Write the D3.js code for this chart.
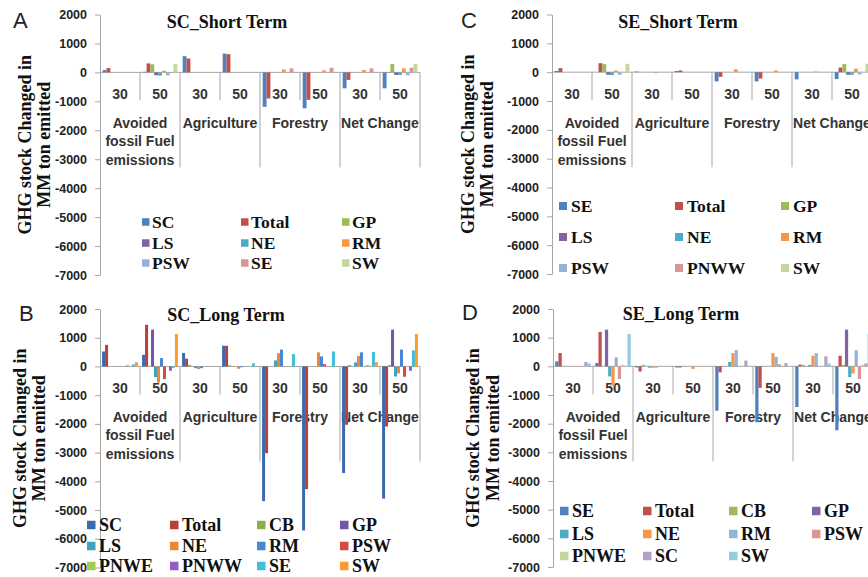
<!DOCTYPE html>
<html>
<head>
<meta charset="utf-8">
<script src="https://cdn.jsdelivr.net/npm/d3@7"></script>
<style>
  body { margin: 0; background: #fff; }
  svg { display: block; }
</style>
</head>
<body>
<svg id="chart" width="868" height="577"></svg>
<script>
// --- Shared categories ---
const periods = ["30", "50"];
const sectors = ["Avoided fossil Fuel emissions", "Agriculture", "Forestry", "Net Change"];
const sectorLines = [["Avoided", "fossil Fuel", "emissions"], ["Agriculture"], ["Forestry"], ["Net Change"]];
const yTicks = [2000, 1000, 0, -1000, -2000, -3000, -4000, -5000, -6000, -7000];

// Values: one row per series, columns = Avoided 30/50, Agriculture 30/50, Forestry 30/50, Net Change 30/50
// --- A: SC short term ---
const scShortSeries = ["SC", "Total", "GP", "LS", "NE", "RM", "PSW", "SE", "SW"];
const scShortValues = [
  [80, 20, 560, 650, -1190, -1240, -550, -550],
  [150, 310, 480, 630, -900, -950, -260, -10],
  [0, 280, 0, 0, 0, 0, 0, 290],
  [0, -100, 0, 0, 0, 0, 0, -90],
  [0, -110, 0, 0, 0, 0, 0, -90],
  [0, 60, 0, 0, 100, 70, 80, 140],
  [0, -100, 0, 0, 0, 0, 0, -100],
  [0, 0, 0, 0, 140, 160, 140, 160],
  [0, 290, 0, 0, 0, 0, 0, 290]
];
const scShortColors = ["#4F81BD", "#C0504D", "#9BBB59", "#8064A2", "#4BACC6", "#F79646", "#95B3D7", "#D99694", "#C3D69B"];

// --- B: SC long term ---
const scLongSeries = ["SC", "Total", "CB", "GP", "LS", "NE", "RM", "PSW", "PNWE", "PNWW", "SE", "SW"];
const scLongValues = [
  [520, 405, 470, 720, -4690, -5710, -3710, -4600],
  [750, 1450, 270, 720, -3020, -4270, -2030, -2090],
  [0, 0, 50, 40, 0, 0, 50, 50],
  [0, 1280, 0, 0, 0, 0, 0, 1280],
  [0, -370, -60, 0, 210, 0, 140, -350],
  [0, -560, -90, -80, 460, 490, 360, -240],
  [0, 290, -60, -30, 590, 350, 490, 590],
  [0, -440, 0, 0, 0, 80, 0, -360],
  [50, 0, 0, 0, 0, 0, 50, 0],
  [0, -150, 0, 0, 0, 0, 0, -150],
  [70, -50, 0, 110, 430, 520, 500, 560],
  [150, 1130, 0, 0, 0, 0, 150, 1130]
];
const scLongColors = ["#3A6BB0", "#B83F3B", "#8CB04A", "#7357A3", "#3CA3C0", "#EF8630", "#4A86D6", "#D64A46", "#A2CC55", "#8E5EC6", "#3FC0DA", "#FF9A33"];

// --- C: SE short term ---
const seShortSeries = ["SE", "Total", "GP", "LS", "NE", "RM", "PSW", "PNWW", "SW"];
const seShortValues = [
  [40, 0, 20, 40, -320, -320, -250, -240],
  [140, 310, 0, 60, -160, -220, 0, 160],
  [0, 280, 0, 0, 0, 0, 0, 280],
  [0, -90, 0, 0, 0, 0, 0, -90],
  [0, -100, 0, 0, 0, 0, 0, -90],
  [0, 60, -30, 0, 100, 60, 20, 120],
  [0, -90, 0, 0, 0, 0, 0, -80],
  [0, 0, 0, 0, 0, 0, 0, 0],
  [0, 290, 0, 0, 0, 0, 0, 290]
];
const seShortColors = ["#4F81BD", "#C0504D", "#9BBB59", "#8064A2", "#4BACC6", "#F79646", "#95B3D7", "#D99694", "#C3D69B"];

// --- D: SE long term ---
const seLongSeries = ["SE", "Total", "CB", "GP", "LS", "NE", "RM", "PSW", "PNWE", "SC", "SW"];
const seLongValues = [
  [175, 115, -40, -40, -1550, -1950, -1420, -2230],
  [465, 1200, -180, -40, -210, -750, 60, 370],
  [0, 0, 50, 0, 0, 0, 50, 50],
  [0, 1280, 0, 0, 0, 0, 0, 1280],
  [0, -350, -50, 0, 150, 0, 50, -370],
  [0, -680, -50, -90, 460, 460, 370, -250],
  [0, 310, -50, 0, 570, 330, 460, 560],
  [0, -440, 0, 0, 0, 70, 0, -440],
  [0, 60, 0, 0, 0, 0, 0, 60],
  [150, 0, 0, 0, 200, 110, 350, 100],
  [100, 1130, 0, 0, 0, 0, 100, 1130]
];
const seLongColors = ["#4F81BD", "#C0504D", "#9BBB59", "#8064A2", "#4BACC6", "#F79646", "#95B3D7", "#D99694", "#C3D69B", "#B3A2C7", "#93CDDD"];

// --- Layout per panel ---
const SANS = "'Liberation Sans', Arial, sans-serif";
const SERIF = "'Liberation Serif', 'Times New Roman', serif";
const AXIS_GRAY = "#a6a6a6";

const panels = [
  { letter: "A", lx: 13, ly: 28, title: "SC_Short Term", tx: 227, ty: 28,
    axisX: 100, top: 14.5, bottom: 275, ytX: [31, 50],
    series: scShortSeries, values: scShortValues, colors: scShortColors,
    legend: { cols: [142, 241, 342], rows: [222, 243, 263], sw: 7.5, gap: 10, size: 17.5 } },
  { letter: "B", lx: 19, ly: 321, title: "SC_Long Term", tx: 226, ty: 321,
    axisX: 100, top: 309, bottom: 567.5, ytX: [26, 45],
    series: scLongSeries, values: scLongValues, colors: scLongColors,
    legend: { cols: [87, 170, 257, 340], rows: [525, 546, 566], sw: 8.5, gap: 12, size: 18 } },
  { letter: "C", lx: 461, ly: 28, title: "SE_Short Term", tx: 678, ty: 28,
    axisX: 552, top: 14.5, bottom: 274, ytX: [474, 493],
    series: seShortSeries, values: seShortValues, colors: seShortColors,
    legend: { cols: [559, 675, 781], rows: [206, 237, 268], sw: 8, gap: 12, size: 17.5 } },
  { letter: "D", lx: 462, ly: 320, title: "SE_Long Term", tx: 681, ty: 320,
    axisX: 553, top: 309, bottom: 567, ytX: [479, 499],
    series: seLongSeries, values: seLongValues, colors: seLongColors,
    legend: { cols: [560, 643, 729, 812], rows: [511, 534, 556], sw: 8.5, gap: 12, size: 18 } }
];

const svg = d3.select("#chart");
svg.append("rect").attr("width", 868).attr("height", 577).attr("fill", "#fff");

function drawPanel(p) {
  const g = svg.append("g");
  const y = d3.scaleLinear().domain([-7000, 2000]).range([p.bottom, p.top]);
  const keys = sectors.flatMap(s => periods.map(pr => s + "|" + pr));
  const x0 = d3.scaleBand().domain(keys).range([p.axisX, p.axisX + 320]);
  const x1 = d3.scaleBand().domain(p.series).range([0, x0.bandwidth()]).paddingOuter(0.7);
  const y0 = y(0);

  // y axis
  const ax = g.append("g")
    .attr("transform", `translate(${p.axisX},0)`)
    .call(d3.axisLeft(y).tickValues(yTicks).tickSize(5).tickPadding(8).tickSizeOuter(0).tickFormat(d => String(d)));
  ax.select(".domain").attr("stroke", AXIS_GRAY);
  ax.selectAll(".tick line").attr("stroke", AXIS_GRAY);
  ax.selectAll(".tick text")
    .attr("font-family", SANS).attr("font-weight", "bold").attr("font-size", 12.5).attr("fill", "#222");

  // zero line + category dividers
  g.append("line")
    .attr("x1", p.axisX).attr("x2", p.axisX + 320).attr("y1", y0).attr("y2", y0)
    .attr("stroke", AXIS_GRAY);
  keys.forEach((k, i) => {
    const xr = x0(k) + x0.bandwidth();
    const long = i % 2 === 1;
    g.append("line")
      .attr("x1", xr).attr("x2", xr).attr("y1", y0).attr("y2", y0 + (long ? 95 : 28))
      .attr("stroke", AXIS_GRAY);
  });

  // period labels
  g.selectAll(".period").data(keys).join("text")
    .attr("x", k => x0(k) + x0.bandwidth() / 2)
    .attr("y", y0 + 26.5)
    .attr("text-anchor", "middle")
    .attr("font-family", SANS).attr("font-weight", "bold").attr("font-size", 14).attr("fill", "#333")
    .text(k => k.split("|")[1]);

  // sector labels
  sectors.forEach((s, si) => {
    const cx = x0(s + "|30") + x0.bandwidth();
    sectorLines[si].forEach((line, li) => {
      g.append("text")
        .attr("x", cx).attr("y", y0 + 55.5 + li * 18.5)
        .attr("text-anchor", "middle")
        .attr("font-family", SANS).attr("font-weight", "bold").attr("font-size", 14).attr("fill", "#333")
        .text(line);
    });
  });

  // bars
  const bars = [];
  p.series.forEach((s, si) => {
    keys.forEach((k, ki) => bars.push({ key: k, series: s, value: p.values[si][ki], color: p.colors[si] }));
  });
  g.append("g").selectAll("rect").data(bars.filter(d => d.value !== 0)).join("rect")
    .attr("x", d => x0(d.key) + x1(d.series))
    .attr("width", x1.bandwidth())
    .attr("y", d => Math.min(y(d.value), y0))
    .attr("height", d => Math.abs(y(d.value) - y0))
    .attr("fill", d => d.color);

  // panel letter and title
  g.append("text").attr("x", p.lx).attr("y", p.ly)
    .attr("font-family", SANS).attr("font-size", 22).attr("fill", "#222").text(p.letter);
  g.append("text").attr("x", p.tx).attr("y", p.ty).attr("text-anchor", "middle")
    .attr("font-family", SERIF).attr("font-weight", "bold").attr("font-size", 18).attr("fill", "#111")
    .text(p.title);

  // y title, two lines
  const cy = (p.top + p.bottom) / 2;
  ["GHG stock Changed in", "MM ton emitted"].forEach((t, i) => {
    g.append("text")
      .attr("transform", `translate(${p.ytX[i]},${cy}) rotate(-90)`)
      .attr("text-anchor", "middle")
      .attr("font-family", SERIF).attr("font-weight", "bold").attr("font-size", 18).attr("fill", "#111")
      .text(t);
  });

  // legend
  const L = p.legend;
  const nc = L.cols.length;
  const items = g.append("g").selectAll("g").data(p.series).join("g")
    .attr("transform", (d, i) => `translate(${L.cols[i % nc]},${L.rows[Math.floor(i / nc)]})`);
  items.append("rect")
    .attr("x", 0).attr("y", -L.sw / 2).attr("width", L.sw).attr("height", L.sw)
    .attr("fill", (d, i) => p.colors[i]);
  items.append("text")
    .attr("x", L.gap).attr("y", 6)
    .attr("font-family", SERIF).attr("font-weight", "bold").attr("font-size", L.size).attr("fill", "#111")
    .text(d => d);
}

panels.forEach(drawPanel);
</script>
</body>
</html>
